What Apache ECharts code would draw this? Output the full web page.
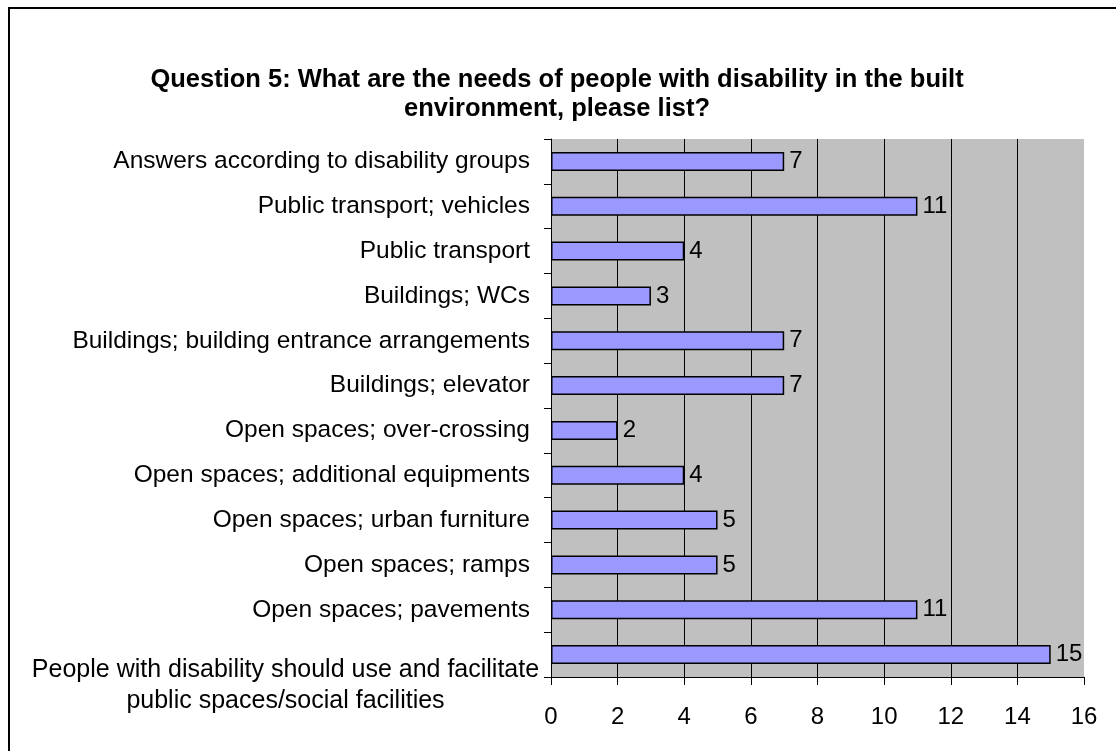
<!DOCTYPE html>
<html>
<head>
<meta charset="utf-8">
<script src="https://cdn.jsdelivr.net/npm/echarts@6/dist/echarts.min.js"></script>
<style>
  html, body { margin: 0; padding: 0; background: #fff; }
  #chart { width: 1116px; height: 751px; }
</style>
</head>
<body>
<div id="chart"></div>
<script>
// Survey answers, listed top to bottom as they appear on the chart
const categories = [
  'Answers according to disability groups',
  'Public transport; vehicles',
  'Public transport',
  'Buildings; WCs',
  'Buildings; building entrance arrangements',
  'Buildings; elevator',
  'Open spaces; over-crossing',
  'Open spaces; additional equipments',
  'Open spaces; urban furniture',
  'Open spaces; ramps',
  'Open spaces; pavements',
  'People with disability should use and facilitate\npublic spaces/social facilities'
];
const counts = [7, 11, 4, 3, 7, 7, 2, 4, 5, 5, 11, 15];
const xTicks = [0, 2, 4, 6, 8, 10, 12, 14, 16];

const FONT = '"Liberation Sans", Arial, sans-serif';

// Wrapped (two-line) labels hang below the category centre and are centred line by line
const categoryData = categories.map(function (c) {
  if (c.indexOf('\n') >= 0) {
    return { value: c, textStyle: { verticalAlign: 'top' } };
  }
  return c;
});

const chart = echarts.init(document.getElementById('chart'), null, { renderer: 'canvas' });

chart.setOption({
  backgroundColor: '#ffffff',
  animation: false,
  title: {
    text: 'Question 5: What are the needs of people with disability in the built\nenvironment, please list?',
    left: 552,
    top: 60,
    textAlign: 'center',
    textStyle: {
      fontFamily: FONT,
      fontSize: 25.5,
      fontWeight: 'bold',
      color: '#000',
      lineHeight: 29,
      align: 'center'
    }
  },
  graphic: [
    { type: 'rect', shape: { x: 8, y: 7, width: 1108, height: 2 }, style: { fill: '#000' } },
    { type: 'rect', shape: { x: 8, y: 7, width: 2, height: 744 }, style: { fill: '#000' } }
  ],
  grid: {
    left: 551,
    right: 32,
    top: 139,
    bottom: 74,
    show: true,
    backgroundColor: '#C0C0C0',
    borderWidth: 0
  },
  xAxis: {
    type: 'value',
    min: xTicks[0],
    max: xTicks[xTicks.length - 1],
    interval: 2,
    axisLine: { show: true, lineStyle: { color: '#000', width: 1 } },
    axisTick: { show: true, length: 8, lineStyle: { color: '#000' } },
    axisLabel: {
      margin: 28,
      fontFamily: FONT,
      fontSize: 24,
      color: '#000'
    },
    splitLine: {
      show: true,
      showMinLine: false,
      showMaxLine: false,
      lineStyle: { color: '#000', width: 1 }
    }
  },
  yAxis: {
    type: 'category',
    inverse: true,
    data: categoryData,
    axisLine: { show: true, lineStyle: { color: '#000', width: 1 } },
    axisTick: { show: true, length: 7, inside: false, lineStyle: { color: '#000' } },
    axisLabel: {
      margin: 8,
      fontFamily: FONT,
      fontSize: 24.5,
      color: '#000',
      formatter: function (v) {
        if (v.indexOf('\n') >= 0) {
          return v.split('\n').map(function (s) { return '{c|' + s + '}'; }).join('\n');
        }
        return '{s|' + v + '}';
      },
      rich: {
        s: {
          fontFamily: FONT,
          fontSize: 24.5,
          color: '#000',
          padding: [0, 13, 0, 0]
        },
        c: {
          width: 515,
          align: 'center',
          fontFamily: FONT,
          fontSize: 25,
          color: '#000',
          lineHeight: 31
        }
      }
    }
  },
  series: [{
    type: 'bar',
    data: counts,
    barWidth: 19,
    itemStyle: {
      color: '#9999FF',
      borderColor: '#000',
      borderWidth: 1.5
    },
    label: {
      show: true,
      position: 'right',
      distance: 5,
      fontFamily: FONT,
      fontSize: 24,
      color: '#000'
    }
  }]
});
</script>
</body>
</html>
